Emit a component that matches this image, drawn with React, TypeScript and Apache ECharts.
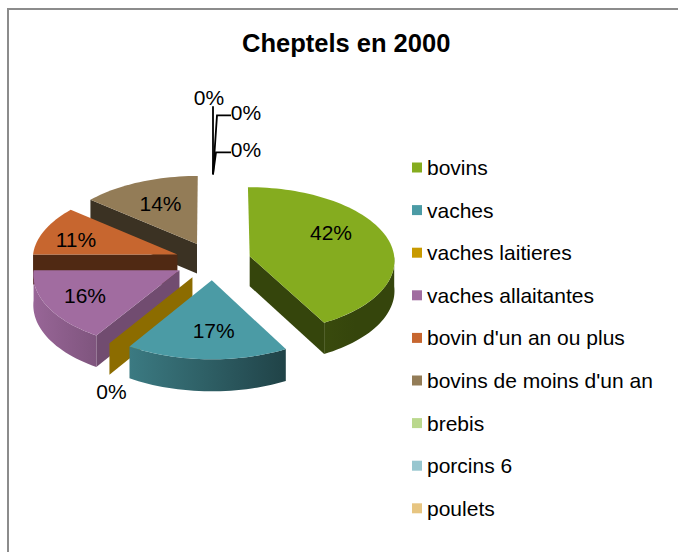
import React, { useEffect, useRef } from 'react';
import * as echarts from 'echarts';

// ---------- data ----------
const TITLE = 'Cheptels en 2000';
const categories = [
  'bovins',
  'vaches',
  'vaches laitieres',
  'vaches allaitantes',
  "bovin d'un an ou plus",
  "bovins de moins d'un an",
  'brebis',
  'porcins 6',
  'poulets',
];
const shares = [42, 17, 0, 16, 11, 14, 0, 0, 0];
const colors = ['#85AC1F', '#4B9BA5', '#C89A00', '#A16CA0', '#C7662F', '#937C57', '#BAD88D', '#97C6CF', '#E7C581'];

// ---------- layout ----------
const CX = 213;
const CY = 261;
const RX = 145;
const RY = 73;
const PERSP = 0.05;
const EXPLODE = 0.262;
const DEPTH = 30;
const FONT = '"Liberation Sans", Arial, Helvetica, sans-serif';
const STACK = [
  { text: [-4, -77], line: [[0, 0], [0, -68]] },
  { text: [33, -62], line: [[0, 0], [4, -59], [18, -59]] },
  { text: [33, -25], line: [[0, 0], [3, -22], [18, -22]] },
];

const rad = (d: number) => (d * Math.PI) / 180;
const proj = (X: number, Y: number, z: number): number[] => {
  const s = 1 / (1 - PERSP * Y);
  return [CX + RX * X * s, CY + RY * Y * s + z * s];
};
const shade = (hex: string, f: number) => {
  const n = parseInt(hex.slice(1), 16);
  const r = (n >> 16) & 255, g = (n >> 8) & 255, b = n & 255;
  return `rgb(${Math.round(r * f)},${Math.round(g * f)},${Math.round(b * f)})`;
};
const wallFactor = (nx: number) => Math.max(0.4, Math.min(0.95, 0.6 - 0.35 * nx));

const total = shares.reduce((a, b) => a + b, 0);
let acc = 0;
const slices = shares.map((v) => {
  const a1 = (acc / total) * 360;
  acc += v;
  const a2 = (acc / total) * 360;
  return { a1, a2, mid: (a1 + a2) / 2 };
});

function renderItem(params: any, api: any) {
  const i = params.dataIndex;
  const v = api.value(0);
  const { a1, a2, mid } = slices[i];
  const base = colors[i];
  const ox = EXPLODE * Math.sin(rad(mid));
  const oy = -EXPLODE * Math.cos(rad(mid));
  const rim = (t: number, z: number) => proj(ox + Math.sin(rad(t)), oy - Math.cos(rad(t)), z);
  const apex = (z: number) => proj(ox, oy, z);
  const zb = Math.round((oy + 1) * 100);
  const children: any[] = [];

  const radialWall = (t: number, nx: number) => {
    children.push({
      type: 'polygon',
      z2: zb,
      shape: { points: [apex(0), rim(t, 0), rim(t, DEPTH), apex(DEPTH)] },
      style: { fill: shade(base, nx > 0.1 ? 0.7 : 0.4) },
    });
  };
  if (Math.sin(rad(a1)) < -1e-6) radialWall(a1, -Math.cos(rad(a1)));
  if (a2 > a1 && Math.sin(rad(a2)) > 1e-6) radialWall(a2, Math.cos(rad(a2)));

  // outer curved wall (front half only)
  const t1 = Math.max(a1, 90);
  const t2 = Math.min(a2, 270);
  if (t2 > t1 + 0.01) {
    const n = Math.max(2, Math.ceil((t2 - t1) / 2));
    const top: number[][] = [];
    const bot: number[][] = [];
    for (let k = 0; k <= n; k++) {
      const t = t1 + ((t2 - t1) * k) / n;
      top.push(rim(t, 0));
      bot.push(rim(t, DEPTH));
    }
    const xL = rim(t2, 0)[0];
    const xR = rim(t1, 0)[0];
    const stops = [];
    for (let k = 0; k <= 4; k++) {
      const t = t2 - ((t2 - t1) * k) / 4;
      const x = rim(t, 0)[0];
      stops.push({ offset: Math.max(0, Math.min(1, (x - xL) / (xR - xL))), color: shade(base, wallFactor(Math.sin(rad(t)))) });
    }
    children.push({
      type: 'polygon',
      z2: zb + 1,
      shape: { points: top.concat(bot.reverse()) },
      style: {
        fill: { type: 'linear', x: xL, y: 0, x2: xR, y2: 0, global: true, colorStops: stops },
      },
    });
  }

  // top face
  if (a2 > a1) {
    const n = Math.max(2, Math.ceil((a2 - a1) / 2));
    const pts: number[][] = [apex(0)];
    for (let k = 0; k <= n; k++) pts.push(rim(a1 + ((a2 - a1) * k) / n, 0));
    children.push({ type: 'polygon', z2: zb + 2, shape: { points: pts }, style: { fill: base } });
  }

  // label
  const text = Math.round((v / total) * 100) + '%';
  const textStyle = { text, fill: '#000', fontSize: 21, fontFamily: FONT, align: 'center', verticalAlign: 'middle' };
  if (v > 0) {
    const frac = v / total;
    const rX = 0.78 - 0.25 * frac - 0.4 * Math.max(0, Math.cos(rad(mid)) - 0.5);
    const labAng = mid - 96 * frac * frac;
    const p = proj(ox + rX * Math.sin(rad(labAng)), oy - 0.65 * Math.cos(rad(labAng)), 0);
    children.push({ type: 'text', z2: 1000, x: p[0], y: p[1], style: textStyle });
  } else if (-Math.cos(rad(mid)) > 0) {
    const p = proj(ox + Math.sin(rad(mid)), oy - Math.cos(rad(mid)), DEPTH);
    children.push({ type: 'text', z2: 1000, x: p[0] + 2, y: p[1] + 17, style: textStyle });
  } else {
    // stacked labels for zero slices at the back
    let k = 0;
    for (let j = 0; j < i; j++) if (shares[j] === 0 && Math.abs(slices[j].mid - mid) < 0.5) k++;
    const st = STACK[Math.min(k, STACK.length - 1)];
    const anchor = rim(mid, 0);
    children.push({
      type: 'polyline',
      z2: 999,
      shape: { points: st.line.map((q) => [anchor[0] + q[0], anchor[1] + q[1]]) },
      style: { stroke: '#000', lineWidth: 1.8, fill: 'none' },
    });
    children.push({ type: 'text', z2: 1000, x: anchor[0] + st.text[0], y: anchor[1] + st.text[1], style: textStyle });
  }

  return { type: 'group', children };
}

const option: any = {
  animation: false,
  backgroundColor: '#fff',
  title: {
    text: TITLE,
    left: 242,
    top: 30,
    padding: 0,
    textStyle: { fontSize: 25.5, fontWeight: 'bold', color: '#000', fontFamily: FONT },
  },
  legend: {
    orient: 'vertical',
    left: 412,
    top: 157,
    padding: 0,
    itemWidth: 10,
    itemHeight: 10,
    itemGap: 21.6,
    icon: 'rect',
    textStyle: { fontSize: 21, lineHeight: 21, color: '#000', fontFamily: FONT },
    data: categories,
  },
  graphic: [
    {
      type: 'rect',
      silent: true,
      shape: { x: 8, y: 9, width: 720, height: 600 },
      style: { fill: 'none', stroke: '#8c8c8c', lineWidth: 2 },
    },
  ],
  series: [
    {
      type: 'pie',
      silent: true,
      radius: [0, 0],
      center: [-200, -200],
      label: { show: false },
      labelLine: { show: false },
      data: categories.map((name, i) => ({ name, value: shares[i], itemStyle: { color: colors[i] } })),
    },
    {
      type: 'custom',
      coordinateSystem: 'none',
      silent: true,
      renderItem,
      data: shares.map((v) => [v]),
    },
  ],
};

export default function App() {
  const ref = useRef<HTMLDivElement>(null);
  useEffect(() => {
    const chart = echarts.init(ref.current as HTMLDivElement, null, { renderer: 'svg' });
    chart.setOption(option);
    return () => chart.dispose();
  }, []);
  return (
    <div
      ref={ref}
      style={{ position: 'fixed', left: 0, top: 0, width: 678, height: 552, background: '#fff' }}
    />
  );
}
